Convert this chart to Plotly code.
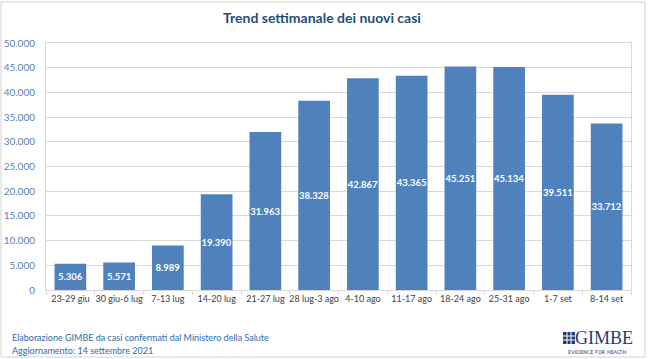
import plotly.graph_objects as go

categories = ["23-29 giu", "30 giu-6 lug", "7-13 lug", "14-20 lug", "21-27 lug", "28 lug-3 ago",
              "4-10 ago", "11-17 ago", "18-24 ago", "25-31 ago", "1-7 set", "8-14 set"]
new_cases = [5306, 5571, 8989, 19390, 31963, 38328, 42867, 43365, 45251, 45134, 39511, 33712]
y_ticks = [0, 5000, 10000, 15000, 20000, 25000, 30000, 35000, 40000, 45000, 50000]

W, H = 650, 359
L, R, T, B = 46, 19, 43, 69
PW, PH = W - L - R, H - T - B


def px(x):
    return (x - L) / PW


def py(y):
    return (H - B - y) / PH


fig = go.Figure()
fig.add_trace(go.Bar(
    x=categories, y=new_cases,
    marker=dict(color="#4f81bd", line=dict(width=0)),
    texttemplate="%{y:,d}", textposition="inside", insidetextanchor="middle",
    constraintext="none",
    textfont=dict(color="white", size=9.5, family="Lato", weight="bold"),
    textangle=0, cliponaxis=False,
))

navy = "#1f3c78"
shapes = [
    # outer frame
    dict(type="rect", xref="paper", yref="paper", x0=px(1), x1=px(645), y0=py(357), y1=py(2),
         line=dict(color="#d3d3d3", width=1), fillcolor="rgba(0,0,0,0)", layer="below"),
    # logo icon
    dict(type="rect", xref="paper", yref="paper", x0=px(563), x1=px(575), y0=py(344), y1=py(332),
         line=dict(width=0), fillcolor=navy),
]
for k in (1, 2):
    xx = 563 + 12 * k / 3
    shapes.append(dict(type="line", xref="paper", yref="paper", x0=px(xx), x1=px(xx), y0=py(344), y1=py(332),
                       line=dict(color="white", width=1)))
    yy = 332 + 12 * k / 3
    shapes.append(dict(type="line", xref="paper", yref="paper", x0=px(563), x1=px(575), y0=py(yy), y1=py(yy),
                       line=dict(color="white", width=1)))

footer_color = "#2f6aaa"
annotations = [
    dict(text="Elaborazione GIMBE da casi confermati dal Ministero della Salute", xref="paper", yref="paper",
         x=px(10), y=py(337), xanchor="left", yanchor="middle", showarrow=False,
         font=dict(size=9, color=footer_color, family="Lato")),
    dict(text="Aggiornamento: 14 settembre 2021", xref="paper", yref="paper",
         x=px(10), y=py(350), xanchor="left", yanchor="middle", showarrow=False,
         font=dict(size=9, color=footer_color, family="Lato")),
    dict(text="GIMBE", xref="paper", yref="paper", x=px(604), y=py(338), xanchor="center", yanchor="middle",
         showarrow=False, font=dict(size=18, color=navy, family="Liberation Serif")),
    dict(text="EVIDENCE FOR HEALTH", xref="paper", yref="paper", x=px(597), y=py(352), xanchor="center",
         yanchor="middle", showarrow=False, font=dict(size=5, color=navy, family="DejaVu Sans")),
]

fig.update_layout(
    width=W, height=H,
    margin=dict(l=L, r=R, t=T, b=B, autoexpand=False),
    paper_bgcolor="white", plot_bgcolor="white",
    separators=",.",
    bargap=0.35,
    showlegend=False,
    title=dict(text="<b>Trend settimanale dei nuovi casi</b>", x=322 / W, xref="container", xanchor="center",
               y=1 - 18 / H, yref="container", yanchor="middle",
               font=dict(size=14, color="#1f4e79", family="Lato")),
    xaxis=dict(showgrid=False, showline=True, linecolor="#d9d9d9", linewidth=1, mirror=True,
               ticks="outside", tickson="boundaries", ticklen=4, tickcolor="#d9d9d9",
               tickangle=0, automargin=False,
               tickfont=dict(size=9, color="#404040", family="Lato")),
    yaxis=dict(range=[0, 50000], tickvals=y_ticks, tickformat=",d", showgrid=True, gridcolor="#d9d9d9",
               gridwidth=1, showline=True, linecolor="#d9d9d9", mirror=True, zeroline=False,
               ticks="", ticklabelstandoff=8, automargin=False,
               tickfont=dict(size=10, color="#5b7fb0", family="Lato")),
    shapes=shapes,
    annotations=annotations,
)

fig.write_html("out.html", config={"displayModeBar": False},
               post_script="document.body.style.margin='0';document.body.style.padding='0';")
